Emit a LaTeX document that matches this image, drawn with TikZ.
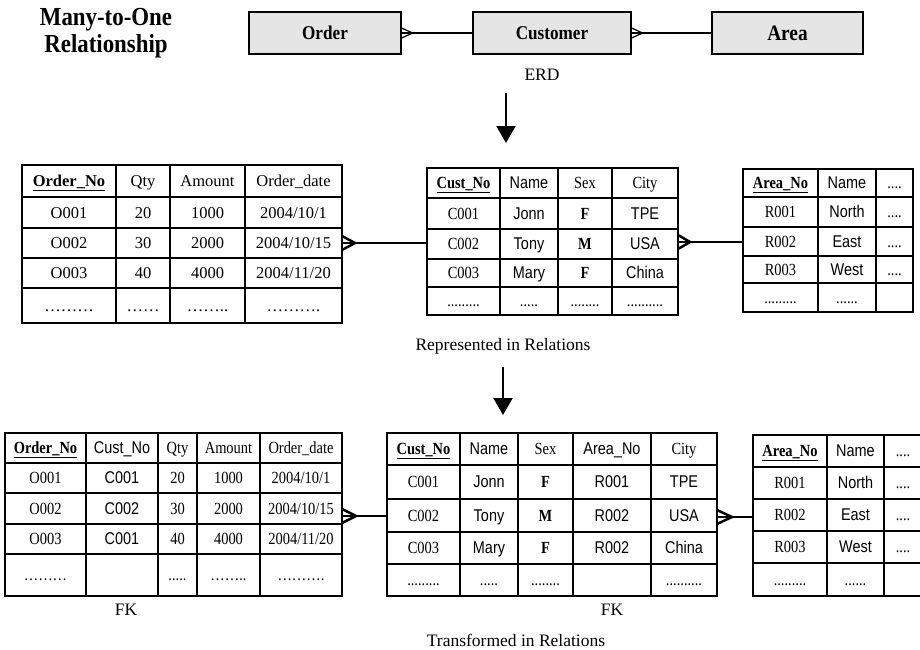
\documentclass[tikz,border=0pt]{standalone}
\usepackage{fontspec}
\setmainfont{Liberation Serif}
\setsansfont{Liberation Sans}
\newfontfamily\condserif[FakeStretch=0.85]{Liberation Serif}
\newfontfamily\condsans[FakeStretch=0.85]{Liberation Sans}
\newfontfamily\titlefont[FakeStretch=0.88]{Liberation Serif}
\usetikzlibrary{arrows.meta}

\newcommand{\pk}[1]{\textbf{\underline{#1}}}
\newcommand{\sa}[1]{{\condsans #1}}

\tikzset{
  ent/.style={draw, fill=black!10, line width=1.2pt, minimum height=42pt, inner sep=0pt,
    font=\titlefont\fontsize{19.5}{22}\selectfont\bfseries},
  tbl/.style={line width=1.5pt},
  conn/.style={line width=2.5pt},
  thin/.style={line width=1.2pt},
  cellbig/.style={font=\fontsize{16.5}{18}\selectfont, text height=11pt, text depth=0pt},
  cellsmall/.style={font=\condserif\fontsize{17}{19}\selectfont, text height=11.3pt, text depth=0pt},
  lbl/.style={font=\fontsize{17.5}{20}\selectfont},
  down/.style={line width=2pt, -{Triangle[width=19pt,length=17pt]}}
}

\begin{document}
\begin{tikzpicture}[x=1pt, y=-1pt]
	\useasboundingbox (0,0) rectangle (920,649);
	\clip (0,0) rectangle (920,649);

	%Titulo
	\node[align=center, font=\titlefont\fontsize{26}{27}\selectfont\bfseries] (title) at (106,33) {Many-to-One\\Relationship};

	%ERD
	\node[ent, minimum width=152pt] (order) at (325,33) {Order};
	\node[ent, minimum width=158pt] (cust) at (552,33) {Customer};
	\node[ent, minimum width=151pt, font=\titlefont\fontsize{22}{24}\selectfont\bfseries] (area) at (787.5,33) {Area};
	\draw[thin] (order.east) -- (cust.west);
	\draw[thin] ([yshift=5pt]order.east) -- ++(11,5) -- ([yshift=-5pt]order.east);
	\draw[thin] (cust.east) -- (area.west);
	\draw[thin] ([yshift=5pt]cust.east) -- ++(11,5) -- ([yshift=-5pt]cust.east);
	\node[lbl] (erd) at (542,75) {ERD};

	\coordinate (a1s) at (506,93);
	\coordinate (a1e) at (506,143);
	\draw[down] (a1s) -- (a1e);

	%Relacoes: Order
	\draw[tbl] (22,165) rectangle (342,323);
	\foreach \x in {116,170,245} \draw[tbl] (\x,165) -- (\x,323);
	\foreach \y in {197,228,258,288} \draw[tbl] (22,\y) -- (342,\y);
	\foreach \x/\t [count=\c] in {69/\pk{Order\_No},143/Qty,207.5/Amount,293.5/Order\_date}
		\node[cellbig] (mo-1-\c) at (\x,181) {\t};
	\foreach \x/\t [count=\c] in {69/O001,143/20,207.5/1000,293.5/{2004/10/1}}
		\node[cellbig] (mo-2-\c) at (\x,212.5) {\t};
	\foreach \x/\t [count=\c] in {69/O002,143/30,207.5/2000,293.5/{2004/10/15}}
		\node[cellbig] (mo-3-\c) at (\x,243) {\t};
	\foreach \x/\t [count=\c] in {69/O003,143/40,207.5/4000,293.5/{2004/11/20}}
		\node[cellbig] (mo-4-\c) at (\x,273) {\t};
	\foreach \x/\t [count=\c] in {69/{………},143/{……},207.5/{……..},293.5/{……….}}
		\node[cellbig] (mo-5-\c) at (\x,305.5) {\t};

	%Relacoes: Customer
	\draw[tbl] (427,168) rectangle (678,315);
	\foreach \x in {500,558,612} \draw[tbl] (\x,168) -- (\x,315);
	\foreach \y in {198,229,259,287} \draw[tbl] (427,\y) -- (678,\y);
	\foreach \x/\t [count=\c] in {463.5/\pk{Cust\_No},529/\sa{Name},585/Sex,645/City}
		\node[cellsmall] (mc-1-\c) at (\x,183) {\t};
	\foreach \x/\t [count=\c] in {463.5/C001,529/\sa{Jonn},585/\textbf{F},645/\sa{TPE}}
		\node[cellsmall] (mc-2-\c) at (\x,213.5) {\t};
	\foreach \x/\t [count=\c] in {463.5/C002,529/\sa{Tony},585/\textbf{M},645/\sa{USA}}
		\node[cellsmall] (mc-3-\c) at (\x,244) {\t};
	\foreach \x/\t [count=\c] in {463.5/C003,529/\sa{Mary},585/\textbf{F},645/\sa{China}}
		\node[cellsmall] (mc-4-\c) at (\x,273) {\t};
	\foreach \x/\t [count=\c] in {463.5/{.........},529/{.....},585/{........},645/{..........}}
		\node[cellsmall] (mc-5-\c) at (\x,301) {\t};

	%Relacoes: Area
	\draw[tbl] (743,169) rectangle (913,312);
	\foreach \x in {818,876} \draw[tbl] (\x,169) -- (\x,312);
	\foreach \y in {197,227,256,283} \draw[tbl] (743,\y) -- (913,\y);
	\foreach \x/\t [count=\c] in {780.5/\pk{Area\_No},847/\sa{Name},894.5/{....}}
		\node[cellsmall] (ma-1-\c) at (\x,183) {\t};
	\foreach \x/\t [count=\c] in {780.5/R001,847/\sa{North},894.5/{....}}
		\node[cellsmall] (ma-2-\c) at (\x,212) {\t};
	\foreach \x/\t [count=\c] in {780.5/R002,847/\sa{East},894.5/{....}}
		\node[cellsmall] (ma-3-\c) at (\x,241.5) {\t};
	\foreach \x/\t [count=\c] in {780.5/R003,847/\sa{West},894.5/{....}}
		\node[cellsmall] (ma-4-\c) at (\x,269.5) {\t};
	\foreach \x/\t [count=\c] in {780.5/{.........},847/{......}}
		\node[cellsmall] (ma-5-\c) at (\x,297.5) {\t};

	%ligacoes
	\coordinate (mo-r) at (342,243);
	\coordinate (mc-l) at (427,243);
	\coordinate (mc-r) at (678,242);
	\coordinate (ma-l) at (743,242);
	\draw[conn] (mo-r) -- (mc-l);
	\draw[conn] ([yshift=7pt]mo-r) -- ++(13,7) -- ([yshift=-7pt]mo-r);
	\draw[conn] (mc-r) -- (ma-l);
	\draw[conn] ([yshift=7pt]mc-r) -- ++(12,7) -- ([yshift=-7pt]mc-r);

	\node[lbl] (rep) at (503,346) {Represented in Relations};
	\coordinate (a2s) at (503,367);
	\coordinate (a2e) at (503,415);
	\draw[down] (a2s) -- (a2e);

	%Transformadas: Order
	\draw[tbl] (5,433) rectangle (342,596);
	\foreach \x in {86,158,197,260} \draw[tbl] (\x,433) -- (\x,596);
	\foreach \y in {463,493,524,554} \draw[tbl] (5,\y) -- (342,\y);
	\foreach \x/\t [count=\c] in {45.5/\pk{Order\_No},122/\sa{Cust\_No},177.5/Qty,228.5/Amount,301/Order\_date}
		\node[cellsmall] (to-1-\c) at (\x,448) {\t};
	\foreach \x/\t [count=\c] in {45.5/O001,122/\sa{C001},177.5/20,228.5/1000,301/{2004/10/1}}
		\node[cellsmall] (to-2-\c) at (\x,478) {\t};
	\foreach \x/\t [count=\c] in {45.5/O002,122/\sa{C002},177.5/30,228.5/2000,301/{2004/10/15}}
		\node[cellsmall] (to-3-\c) at (\x,508.5) {\t};
	\foreach \x/\t [count=\c] in {45.5/O003,122/\sa{C001},177.5/40,228.5/4000,301/{2004/11/20}}
		\node[cellsmall] (to-4-\c) at (\x,539) {\t};
	\foreach \x/\t [count=\c] in {45.5/{………},177.5/{.....},228.5/{……..},301/{……….}}
		\node[cellsmall] (to-5-\c) at (\x,575) {\t};
	\node[lbl] (fk1) at (126,610) {FK};

	%Transformadas: Customer
	\draw[tbl] (387,433) rectangle (717,596);
	\foreach \x in {460,518,573,651} \draw[tbl] (\x,433) -- (\x,596);
	\foreach \y in {465,499,532,564} \draw[tbl] (387,\y) -- (717,\y);
	\foreach \x/\t [count=\c] in {423.5/\pk{Cust\_No},489/\sa{Name},545.5/Sex,612/\sa{Area\_No},684/City}
		\node[cellsmall] (tc-1-\c) at (\x,449) {\t};
	\foreach \x/\t [count=\c] in {423.5/C001,489/\sa{Jonn},545.5/\textbf{F},612/\sa{R001},684/\sa{TPE}}
		\node[cellsmall] (tc-2-\c) at (\x,482) {\t};
	\foreach \x/\t [count=\c] in {423.5/C002,489/\sa{Tony},545.5/\textbf{M},612/\sa{R002},684/\sa{USA}}
		\node[cellsmall] (tc-3-\c) at (\x,515.5) {\t};
	\foreach \x/\t [count=\c] in {423.5/C003,489/\sa{Mary},545.5/\textbf{F},612/\sa{R002},684/\sa{China}}
		\node[cellsmall] (tc-4-\c) at (\x,548) {\t};
	\foreach \x/\t [count=\c] in {423.5/{.........},489/{.....},545.5/{........},684/{..........}}
		\node[cellsmall] (tc-5-\c) at (\x,580) {\t};
	\node[lbl] (fk2) at (612,610) {FK};

	%Transformadas: Area
	\draw[tbl] (753,435) rectangle (930,596);
	\foreach \x in {827,884} \draw[tbl] (\x,435) -- (\x,596);
	\foreach \y in {467,499,531,563} \draw[tbl] (753,\y) -- (930,\y);
	\foreach \x/\t [count=\c] in {790/\pk{Area\_No},855.5/\sa{Name},903/{....}}
		\node[cellsmall] (ta-1-\c) at (\x,451) {\t};
	\foreach \x/\t [count=\c] in {790/R001,855.5/\sa{North},903/{....}}
		\node[cellsmall] (ta-2-\c) at (\x,483) {\t};
	\foreach \x/\t [count=\c] in {790/R002,855.5/\sa{East},903/{....}}
		\node[cellsmall] (ta-3-\c) at (\x,515) {\t};
	\foreach \x/\t [count=\c] in {790/R003,855.5/\sa{West},903/{....}}
		\node[cellsmall] (ta-4-\c) at (\x,547) {\t};
	\foreach \x/\t [count=\c] in {790/{.........},855.5/{......}}
		\node[cellsmall] (ta-5-\c) at (\x,579.5) {\t};

	%ligacoes
	\coordinate (to-r) at (342,516);
	\coordinate (tc-l) at (387,516);
	\coordinate (tc-r) at (717,517);
	\coordinate (ta-l) at (753,517);
	\draw[conn] (to-r) -- (tc-l);
	\draw[conn] ([yshift=7pt]to-r) -- ++(14,7) -- ([yshift=-7pt]to-r);
	\draw[conn] (tc-r) -- (ta-l);
	\draw[conn] ([yshift=7pt]tc-r) -- ++(15,7) -- ([yshift=-7pt]tc-r);

	\node[lbl] (trans) at (516,640) {Transformed in Relations};
\end{tikzpicture}
\end{document}
